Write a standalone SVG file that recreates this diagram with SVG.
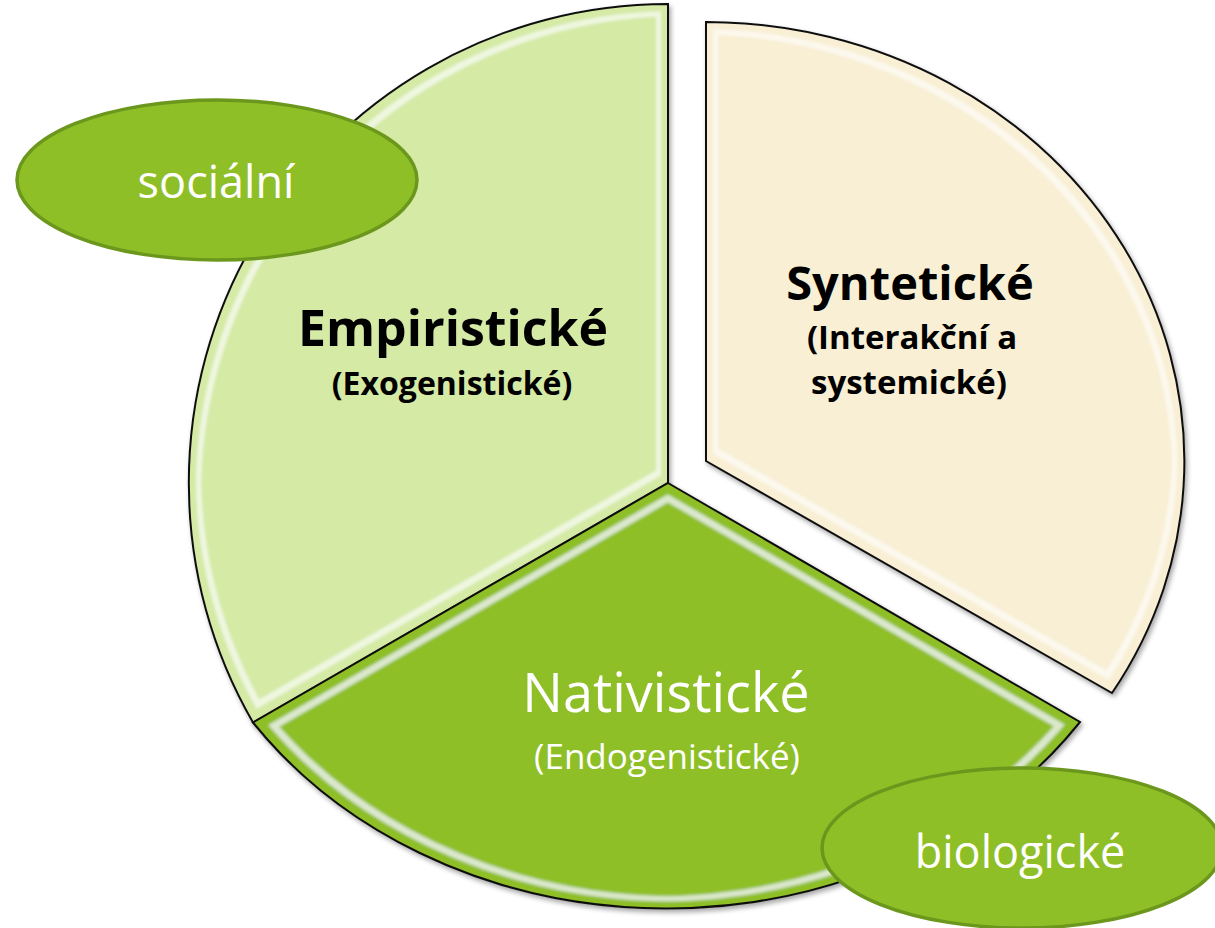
<svg xmlns="http://www.w3.org/2000/svg" width="1215" height="928" viewBox="0 0 1215 928">
  <style>
    .sector { stroke: #111111; stroke-width: 2; stroke-linejoin: miter; }
    .title { font-family: "Open Sans", "Noto Sans", "DejaVu Sans", sans-serif; text-anchor: middle; }
    .bold { font-weight: bold; fill: #000000; }
    .white { fill: #ffffff; }
    .oval { fill: #8fbf26; stroke: #6b971d; stroke-width: 3.5; }
  </style>
  <defs>
    <filter id="bevel" x="-5%" y="-5%" width="112%" height="112%">
      <feGaussianBlur in="SourceAlpha" stdDeviation="2.5" result="sb"/>
      <feOffset in="sb" dx="2" dy="3" result="so"/>
      <feComponentTransfer in="so" result="shadow">
        <feFuncA type="linear" slope="0.35"/>
      </feComponentTransfer>
      <feMorphology in="SourceAlpha" operator="erode" radius="8" result="e1"/>
      <feMorphology in="SourceAlpha" operator="erode" radius="13" result="e2"/>
      <feComposite in="e1" in2="e2" operator="out" result="ring"/>
      <feGaussianBlur in="ring" stdDeviation="1.8" result="ringb"/>
      <feFlood flood-color="#ffffff" flood-opacity="0.6"/>
      <feComposite in2="ringb" operator="in" result="hl"/>
      <feMerge>
        <feMergeNode in="shadow"/>
        <feMergeNode in="SourceGraphic"/>
        <feMergeNode in="hl"/>
      </feMerge>
    </filter>
  </defs>
  <rect width="1215" height="928" fill="#ffffff"/>

  <g id="empiristicke">
    <path class="sector" filter="url(#bevel)" fill="#d4eaa5" d="M668,483 L253,722.5 A479,479 0 0 1 668,4 Z"/>
    <text class="title bold" x="453" y="346" font-size="50">Empiristické</text>
    <text class="title bold" x="452" y="395" font-size="32">(Exogenistické)</text>
  </g>

  <g id="nativisticke">
    <path class="sector" filter="url(#bevel)" fill="#8fbf26" d="M668,483 L1080,722 A502,430 0 0 1 253,722.5 Z"/>
    <text class="title white" x="666" y="712" font-size="54">Nativistické</text>
    <text class="title white" x="667" y="769" font-size="35">(Endogenistické)</text>
  </g>

  <g id="synteticke">
    <path class="sector" filter="url(#bevel)" fill="#f8efd4" d="M706,461 L706,22 A479,439 0 0 1 1112,693 Z"/>
    <text class="title bold" x="910" y="300" font-size="47">Syntetické</text>
    <text class="title bold" x="912" y="349" font-size="33">(Interakční a</text>
    <text class="title bold" x="909" y="394" font-size="33">systemické)</text>
  </g>

  <g id="socialni">
    <ellipse class="oval" cx="217" cy="180" rx="200" ry="80"/>
    <text class="title white" x="216" y="198" font-size="45">sociální</text>
  </g>

  <g id="biologicke">
    <ellipse class="oval" cx="1022" cy="848" rx="200" ry="80"/>
    <text class="title white" x="1020" y="868" font-size="45">biologické</text>
  </g>

  <g id="connectors"></g>
</svg>
